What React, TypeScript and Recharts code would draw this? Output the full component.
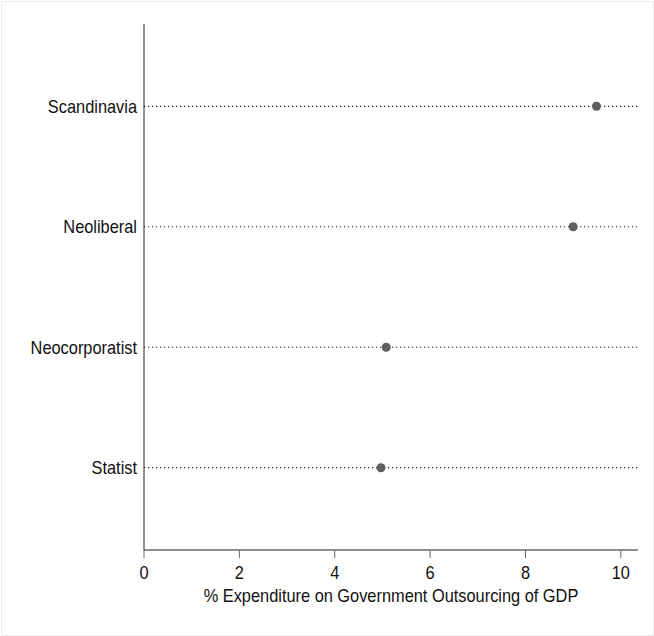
import { ScatterChart, Scatter, XAxis, YAxis, ReferenceLine, Label } from "recharts"

// regime types, listed top to bottom
const regimes = ["Scandinavia", "Neoliberal", "Neocorporatist", "Statist"]
// outsourcing spend, % of GDP
const outsourcing = [9.49, 9.0, 5.08, 4.97]
const xTicks = [0, 2, 4, 6, 8, 10]

// numeric rows so the top regime sits highest
const rows = regimes.map((name, i) => ({
  name,
  value: outsourcing[i],
  row: regimes.length - i,
}))
const rowTicks = rows.map((r) => r.row)
const rowName = (v: number) => rows.find((r) => r.row === v)?.name ?? ""

const font = "'Liberation Sans', Arial, Helvetica, sans-serif"
const narrow = "scale(0.91,1)"

const RowTick = ({ x, y, payload }: any) => (
  <g transform={`translate(${x},${y})`}>
    <text transform={narrow} textAnchor="end" dy={6.5} fill="#111" fontSize={18} fontFamily={font}>
      {rowName(payload.value)}
    </text>
  </g>
)

const ValueTick = ({ x, y, payload }: any) => (
  <g transform={`translate(${x},${y})`}>
    <text transform={narrow} textAnchor="middle" dy={12.8} fill="#111" fontSize={18} fontFamily={font}>
      {payload.value}
    </text>
  </g>
)

export default function App() {
  return (
    <div style={{ position: "absolute", left: 0, top: 0, width: 654, height: 636, background: "#fff" }}>
      <div
        style={{
          position: "absolute",
          left: 1,
          top: 1,
          width: 651,
          height: 633,
          border: "1px solid #ececec",
        }}
      />
      <ScatterChart
        width={654}
        height={636}
        margin={{ top: 24, right: 16, bottom: 46, left: 0 }}
        style={{ fontFamily: font }}
      >
        <XAxis
          type="number"
          dataKey="value"
          domain={[0, 10.36]}
          ticks={xTicks}
          allowDataOverflow
          height={40}
          stroke="#222"
          tickSize={8}
          tickMargin={8}
          tickLine={{ stroke: "#666" }}
          tick={<ValueTick />}
        >
          <Label
            content={({ viewBox }: any) => (
              <g transform={`translate(${viewBox.x + viewBox.width / 2},${viewBox.y + 52})`}>
                <text transform={narrow} textAnchor="middle" fill="#111" fontSize={18} fontFamily={font}>
                  % Expenditure on Government Outsourcing of GDP
                </text>
              </g>
            )}
          />
        </XAxis>
        <YAxis
          type="number"
          dataKey="row"
          domain={[0.317, 4.683]}
          ticks={rowTicks}
          allowDataOverflow
          width={144}
          stroke="#222"
          tickLine={false}
          tickSize={0}
          tickMargin={7}
          tick={<RowTick />}
        />
        {/* dotted guide across each regime row */}
        {rowTicks.map((t) => (
          <ReferenceLine key={t} y={t} stroke="#222" strokeWidth={1.2} strokeDasharray="1.2 2.8" />
        ))}
        <Scatter data={rows} fill="#5f5f5f" isAnimationActive={false} shape="circle" size={72} />
      </ScatterChart>
    </div>
  )
}
